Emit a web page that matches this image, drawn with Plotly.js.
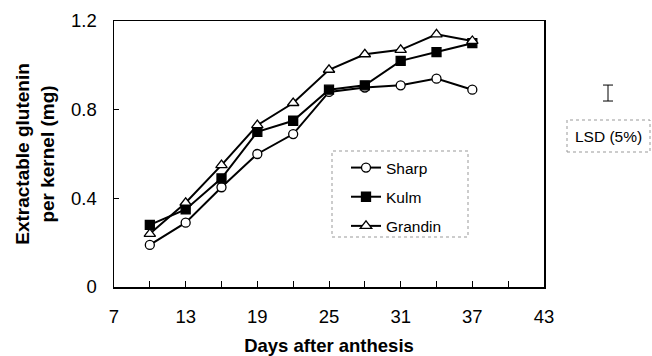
<!DOCTYPE html>
<html>
<head>
<meta charset="utf-8">
<script src="https://cdn.plot.ly/plotly-3.0.1.min.js"></script>
<style>html,body{margin:0;padding:0;background:#fff;}#chart{width:652px;height:356px;}</style>
</head>
<body>
<div id="chart"></div>
<script>
// Data
const days = [10, 13, 16, 19, 22, 25, 28, 31, 34, 37];
const sharp = [0.19, 0.29, 0.45, 0.60, 0.69, 0.88, 0.90, 0.91, 0.94, 0.89];
const kulm = [0.28, 0.35, 0.49, 0.70, 0.75, 0.89, 0.91, 1.02, 1.06, 1.10];
const grandin = [0.24, 0.38, 0.55, 0.73, 0.83, 0.98, 1.05, 1.07, 1.14, 1.11];
const seriesNames = ['Sharp', 'Kulm', 'Grandin'];
const xTickVals = [7, 13, 19, 25, 31, 37, 43];
const yTickVals = [0, 0.4, 0.8, 1.2];
const yTickText = ['0', '0.4', '0.8', '1.2'];
const lsdCenter = [0.875];
const lsdValue = [0.072];

const FONT = 'Liberation Sans, Arial, sans-serif';
const lineStyle = {color: '#000', width: 2};

function series(name, y, symbol, group) {
  return {
    type: 'scatter', mode: 'lines+markers', name: name, x: days, y: y,
    legendgroup: group,
    line: lineStyle,
    marker: {symbol: symbol, size: symbol === 'triangle-up' ? 10 : 9,
             color: symbol === 'square' ? '#000' : '#fff',
             line: {color: '#000', width: 1.3}},
    cliponaxis: false
  };
}

const traces = [
  series(seriesNames[0], sharp, 'circle', 'a'),
  series(seriesNames[1], kulm, 'square', 'b'),
  series(seriesNames[2], grandin, 'triangle-up', 'c'),
  {
    type: 'scatter', mode: 'markers', x: [0], y: lsdCenter,
    xaxis: 'x2', yaxis: 'y2', showlegend: false, hoverinfo: 'skip',
    marker: {size: 1, color: 'rgba(0,0,0,0)'},
    error_y: {type: 'data', symmetric: true, array: lsdValue.map(v => v / 2),
              color: '#000', thickness: 1, width: 5}
  }
];

const PW = 652 - 114 - 2;           // plot width in px
const px = v => (v - 114) / PW;     // px -> paper x
const py = v => (287 - v) / 266;    // px -> paper y

const layout = {
  width: 652, height: 356,
  margin: {l: 114, r: 2, t: 21, b: 69},
  paper_bgcolor: '#fff', plot_bgcolor: '#fff',
  font: {family: FONT, color: '#000', size: 15},
  showlegend: true,
  xaxis: {
    domain: [0, 430 / PW], range: [7, 43], tickmode: 'array', tickvals: xTickVals,
    ticks: 'inside', ticklen: 6, tickwidth: 1, tickcolor: '#000',
    minor: {dtick: 3, tick0: 7, ticks: 'inside', ticklen: 6, tickwidth: 1, tickcolor: '#000', showgrid: false},
    showline: true, linecolor: '#000', linewidth: 1.5, mirror: true,
    showgrid: false, zeroline: false, ticklabelstandoff: 12,
    tickfont: {size: 18.5, family: FONT},
    title: {text: '<b>Days after anthesis</b>', font: {size: 18.5, family: FONT}, standoff: 15},
    automargin: false, fixedrange: true
  },
  yaxis: {
    range: [0, 1.2], tickmode: 'array', tickvals: yTickVals, ticktext: yTickText,
    ticks: 'inside', ticklen: 5, tickwidth: 1, tickcolor: '#000',
    showline: true, linecolor: '#000', linewidth: 1.5, mirror: true,
    showgrid: false, zeroline: false, ticklabelstandoff: 12,
    tickfont: {size: 18.5, family: FONT},
    title: {text: '<b>Extractable glutenin<br>per kernel (mg)</b>', font: {size: 19, family: FONT}, standoff: 11},
    automargin: false, fixedrange: true
  },
  xaxis2: {domain: [px(600), px(616)], range: [-1, 1], anchor: 'y2', visible: false, fixedrange: true},
  yaxis2: {domain: [0, 1], range: [0, 1.2], anchor: 'x2', visible: false, fixedrange: true},
  legend: {
    x: px(332), y: py(151), xanchor: 'left', yanchor: 'top',
    bgcolor: 'rgba(0,0,0,0)', borderwidth: 0,
    font: {size: 15.5, family: FONT}, tracegroupgap: 6, indentation: 14,
    itemwidth: 30
  },
  shapes: [
    {type: 'rect', xref: 'paper', yref: 'paper', x0: px(332), x1: px(468), y0: py(237), y1: py(151),
     line: {color: '#999', width: 1, dash: 'dot'}},
    {type: 'rect', xref: 'paper', yref: 'paper', x0: px(567), x1: px(650), y0: py(152), y1: py(120),
     line: {color: '#999', width: 1, dash: 'dot'}}
  ],
  annotations: [
    {xref: 'paper', yref: 'paper', x: px(608), y: py(136), text: 'LSD (5%)', showarrow: false,
     xanchor: 'center', yanchor: 'middle', font: {size: 15.5, family: FONT}}
  ]
};

Plotly.newPlot('chart', traces, layout, {displayModeBar: false, staticPlot: true});
</script>
</body>
</html>
